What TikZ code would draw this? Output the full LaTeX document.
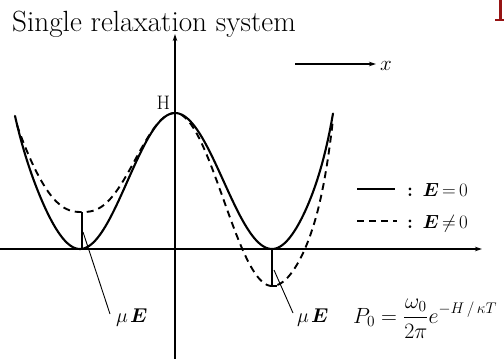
\RequirePackage{fix-cm}
\documentclass[tikz,border=0pt]{standalone}
\usepackage{amsmath,bm}
\usetikzlibrary{arrows.meta}
\definecolor{darkred}{RGB}{150,20,20}
\begin{document}
\begin{tikzpicture}[x=1pt,y=-1pt,
  declare function={sq(\t)=pow(sin(90*\t),2);},
  axis/.style={line width=1.2pt,-{Stealth[length=7pt,width=4.5pt]}},
  pot/.style={line width=2.1pt,line join=round,line cap=round},
  potE/.style={line width=1.9pt,dash pattern=on 7pt off 5pt},
  vline/.style={line width=1.6pt},
  leader/.style={line width=0.9pt},
  lbl/.style={inner sep=0pt,anchor=base west}]
\useasboundingbox (0,0) rectangle (504,359);

% cut-off red letter at top right
\fill[darkred] (499,0) rectangle (502,20);
\fill[darkred] (495,18.6) rectangle (504,20.6);

% title
\node[lbl] (title) at (12,31) {\fontsize{29.2}{33}\selectfont Single relaxation system};

% axes
\coordinate (xl) at (0,249);
\coordinate (xr) at (482,249);
\coordinate (yb) at (175,359);
\coordinate (yt) at (175,34);
\draw[axis] (xl) -- (xr);
\draw[axis] (yb) -- (yt);

% x direction arrow
\coordinate (xa1) at (295,64);
\coordinate (xa2) at (376,64);
\draw[axis] (xa1) -- (xa2);
\node[lbl] (xlab) at (380,70) {\fontsize{21}{24}\selectfont $x$};

% H label
\node[inner sep=0pt] (H) at (163.5,102.5) {\fontsize{19.5}{22}\selectfont H};

% potential, E = 0
\draw[pot] plot[domain=15:80,samples=40] (\x,{249-136*(sq((80-\x)/95)+2*pow((80-\x)/95,6))})
  -- plot[domain=80:175,samples=50] (\x,{249-136*sq((\x-80)/95)})
  -- plot[domain=175:272,samples=50] (\x,{249-136*sq((272-\x)/97)})
  -- plot[domain=272:333,samples=40] (\x,{249-136*(sq((\x-272)/95)+4*pow((\x-272)/95,6))});

% potential, E != 0
\draw[potE] plot[domain=17:82,samples=40] (\x,{212-99*(pow(max(sq((82-\x)/93),0.0001),1.3)+1.2*pow((82-\x)/93,6))})
  -- plot[domain=82:175,samples=50] (\x,{212-99*pow(max(sq((\x-82)/93),0.0001),1.3)})
  -- plot[domain=175:272,samples=50] (\x,{286-173*sq((272-\x)/97)})
  -- plot[domain=272:333,samples=40] (\x,{286-173*(sq((\x-272)/110)+13*pow((\x-272)/110,6))});

% muE markers
\coordinate (ltop) at (82,212);
\coordinate (lmin) at (82,249);
\draw[vline] (ltop) -- (lmin);
\coordinate (rmin) at (272,249);
\coordinate (rbot) at (272,286);
\coordinate (rfoot) at (277,286);
\draw[vline] (rmin) -- (rbot) -- (rfoot);

\node[lbl] (lE) at (116,322) {\fontsize{20}{22}\selectfont $\mu\mkern2mu\bm{E}$};
\node[lbl] (rE) at (297,322) {\fontsize{20}{22}\selectfont $\mu\mkern2mu\bm{E}$};
\coordinate (la) at (83,232);
\coordinate (lend) at (110,314);
\coordinate (ra) at (274,270);
\coordinate (rend) at (293,313);
\draw[leader] (la) -- (lend);
\draw[leader] (ra) -- (rend);

% legend
\coordinate (s1) at (357,189);
\coordinate (s2) at (395,189);
\draw[pot,line cap=butt] (s1) -- (s2);
\node[lbl] (leg1) at (407,196) {\fontsize{19}{22}\selectfont $\boldsymbol{:}\mkern4mu\bm{E}\mkern3mu{=}\mkern3mu0$};
\coordinate (d1) at (357,221);
\coordinate (d2) at (397,221);
\draw[potE] (d1) -- (d2);
\node[lbl] (leg2) at (407,228) {\fontsize{19}{22}\selectfont $\boldsymbol{:}\mkern4mu\bm{E}\mkern3mu{\neq}\mkern3mu0$};

% formula
\node[lbl] (P0) at (353,323) {\fontsize{22}{26}\selectfont $\displaystyle P_0=\frac{\omega_0}{2\pi}e^{-H\,/\,\kappa T}$};
\end{tikzpicture}
\end{document}
